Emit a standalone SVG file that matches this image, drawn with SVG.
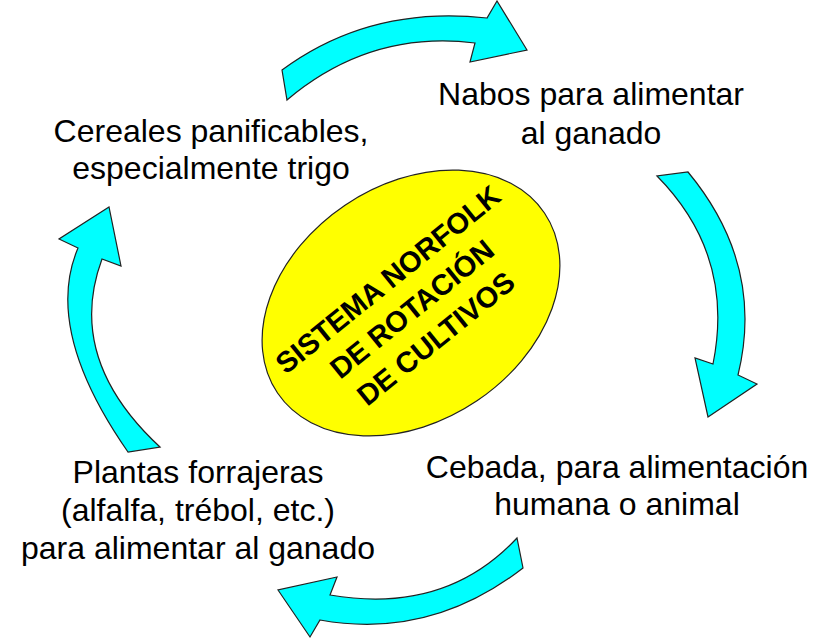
<svg xmlns="http://www.w3.org/2000/svg" width="830" height="639" viewBox="0 0 830 639">
<style>
.arr{fill:#00FFFF;stroke:#222;stroke-width:1.2;stroke-linejoin:miter}
.lbl{font-family:"Liberation Sans",Arial,sans-serif;font-size:32px;fill:#000;text-anchor:middle}
.ctr{font-family:"Liberation Sans",Arial,sans-serif;font-size:29px;font-weight:bold;fill:#000;text-anchor:middle}
</style>
<rect width="830" height="639" fill="#fff"/>
<g id="connectors">
<path class="arr" d="M 282,70 Q 370,5 487,18 L 497,1 L 527,50 L 470,62 L 475,43 Q 370,30 287,100 Z"/>
<path class="arr" d="M 688,172 Q 765,265 738,375 L 757,384 L 708,417 L 695,358 L 713,364 Q 735,255 657,176 Z"/>
<path class="arr" d="M 523,568 Q 430,640 320,620 L 310,637 L 278,590 L 337,577 L 330,595 Q 445,615 517,538 Z"/>
<path class="arr" d="M 128,452 Q 43,330 78,248 L 59,239 L 109,207 L 121,266 L 102,259 Q 65,359 160,447 Z"/>
</g>
<g id="center">
<ellipse cx="411" cy="303" rx="161" ry="118" transform="rotate(-34 411 303)" fill="#FFFF00" stroke="#222" stroke-width="1.2"/>
<g transform="translate(412,309) rotate(-39)">
<text class="ctr" x="0" y="-28">SISTEMA NORFOLK</text>
<text class="ctr" x="0" y="10">DE ROTACIÓN</text>
<text class="ctr" x="0" y="48">DE CULTIVOS</text>
</g>
</g>
<g id="nabos">
<text class="lbl" x="591" y="105">Nabos para alimentar</text>
<text class="lbl" x="591" y="144">al ganado</text>
</g>
<g id="cebada">
<text class="lbl" x="617" y="478">Cebada, para alimentación</text>
<text class="lbl" x="617" y="515">humana o animal</text>
</g>
<g id="plantas">
<text class="lbl" x="198" y="483">Plantas forrajeras</text>
<text class="lbl" x="198" y="521">(alfalfa, trébol, etc.)</text>
<text class="lbl" x="198" y="559">para alimentar al ganado</text>
</g>
<g id="cereales">
<text class="lbl" x="211" y="142">Cereales panificables,</text>
<text class="lbl" x="211" y="179">especialmente trigo</text>
</g>
</svg>
